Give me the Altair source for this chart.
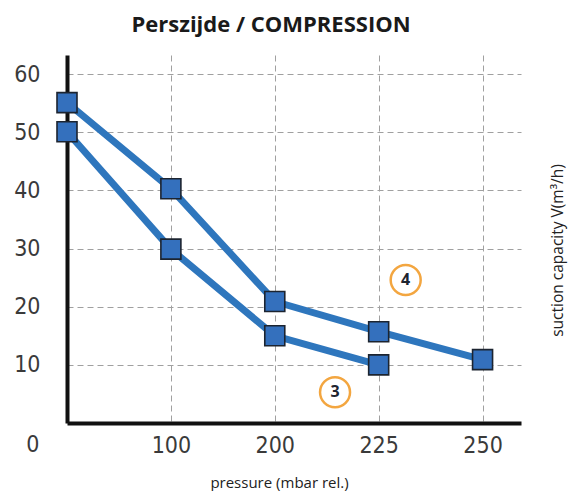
import json
import altair as alt
import pandas as pd

pressures = ["0", "100", "200", "225", "250"]
series_4 = [55.1, 40.3, 20.9, 15.7, 10.9]
series_3 = [50.1, 29.9, 15.0, 10.0]
y_ticks = [10, 20, 30, 40, 50, 60]
badge_labels = ["4", "3"]
badge_x = [3.26, 2.58]
badge_y = [24.6, 5.3]

rows = []
for i, v in enumerate(series_4):
    rows.append({"idx": i, "cap": v, "series": "4"})
for i, v in enumerate(series_3):
    rows.append({"idx": i, "cap": v, "series": "3"})
df = pd.DataFrame(rows)
badges = pd.DataFrame({"label": badge_labels, "idx": badge_x, "cap": badge_y})
zero = pd.DataFrame({"label": ["0"], "idx": [-0.33], "cap": [-3.7]})

label_font = "Liberation Sans Narrow, DejaVu Sans Condensed, sans-serif"
label_expr = json.dumps(pressures) + "[datum.value]"

xs = alt.Scale(domain=[0, 4.37], nice=False, zero=False)
ys = alt.Scale(domain=[0, 63.3], nice=False)

x_enc = alt.X(
    "idx:Q", scale=xs,
    axis=alt.Axis(
        values=[1, 2, 3, 4], labelExpr=label_expr, title="pressure (mbar rel.)",
        ticks=False, labelPadding=11, labelFont=label_font, labelFontSize=23,
        labelColor="#3a3a3a", grid=True, gridDash=[6, 4], gridColor="#a0a0a0",
        gridWidth=1, domainColor="#111111", domainWidth=4,
        titleFont="Open Sans", titleFontSize=15, titleFontWeight="normal",
        titleColor="#222222", titlePadding=18, titleX=212,
    ),
)
y_enc = alt.Y(
    "cap:Q", scale=ys,
    axis=alt.Axis(
        values=y_ticks, title="suction capacity V(m³/h)", ticks=False,
        labelPadding=27, labelFont=label_font, labelFontSize=23,
        labelColor="#3a3a3a", grid=True, gridDash=[6, 4], gridColor="#a0a0a0",
        gridWidth=1, domainColor="#111111", domainWidth=4,
        titleFont="Open Sans", titleFontSize=15.5, titleFontWeight="normal",
        titleColor="#222222", titleX=490, titleY=195, titleAngle=270,
        titleAlign="center", titleBaseline="middle",
    ),
)

lines = alt.Chart(df).mark_line(strokeWidth=7, color="#2e76bd").encode(
    x=x_enc, y=y_enc, detail="series:N"
)
points = alt.Chart(df).mark_point(
    shape="square", size=400, filled=True, fill="#3470bd", stroke="#1c2430",
    strokeWidth=1.6, opacity=1,
).encode(x="idx:Q", y="cap:Q")
circles = alt.Chart(badges).mark_point(
    shape="circle", size=900, filled=False, fill="white", fillOpacity=1,
    stroke="#f3a640", strokeWidth=2.5, opacity=1,
).encode(x="idx:Q", y="cap:Q")
circle_text = alt.Chart(badges).mark_text(
    font="Open Sans", fontSize=16, fontWeight="bold", color="#1e2530",
    baseline="middle", align="center",
).encode(x="idx:Q", y="cap:Q", text="label:N")
zero_text = alt.Chart(zero).mark_text(
    font=label_font, fontSize=23, color="#3a3a3a", baseline="middle",
    align="center",
).encode(x="idx:Q", y="cap:Q", text="label:N")

chart = (
    alt.layer(lines, points, circles, circle_text, zero_text)
    .properties(
        width=454, height=368,
        title=alt.TitleParams(
            "Perszijde / COMPRESSION", font="Open Sans", fontSize=22,
            fontWeight="bold", color="#1a1a1a", anchor="middle", dx=-23,
            offset=18,
        ),
        autosize=alt.AutoSizeParams(type="none"),
        padding={"left": 59, "top": 47, "right": 53, "bottom": 76},
    )
    .configure_view(stroke=None)
)

chart.save("out.html", embed_options={"renderer": "svg", "actions": False})
